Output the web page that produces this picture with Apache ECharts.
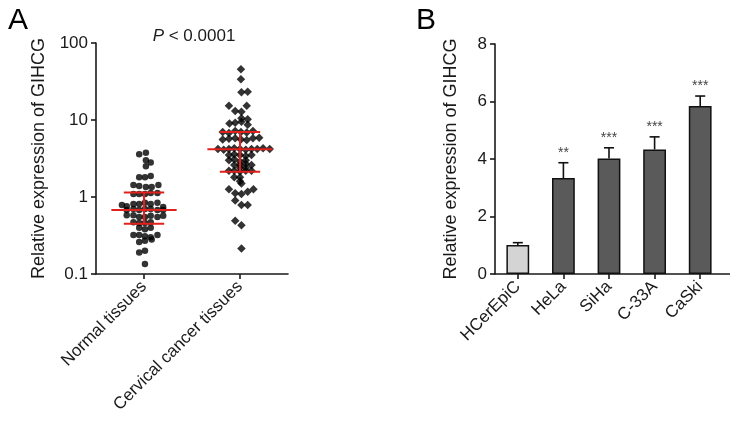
<!DOCTYPE html>
<html>
<head>
<meta charset="utf-8">
<script src="https://cdn.jsdelivr.net/npm/echarts@6/dist/echarts.min.js"></script>
<style>
html,body{margin:0;padding:0;background:#fff;}
#chart{width:730px;height:421px;}
</style>
</head>
<body>
<div id="chart"></div>
<script>
// ---------- Panel A data ----------
const groupsA = ['Normal tissues', 'Cervical cancer tissues'];
const normalValues = [3.6,3.75,3.0,2.8,2.5,1.8,1.8,1.87,1.43,1.39,1.35,1.35,1.43,1.09,1.09,1.09,1.13,1.13,0.79,0.76,0.81,0.81,0.84,0.81,0.84,0.74,0.68,0.70,0.68,0.70,0.70,0.68,0.68,0.58,0.58,0.55,0.55,0.57,0.55,0.57,0.47,0.46,0.46,0.47,0.40,0.38,0.40,0.32,0.32,0.31,0.30,0.32,0.26,0.27,0.28,0.19,0.20,0.135];
const normalJitter = [-0.05,0.02,0.02,0.07,0.02,-0.05,0.01,0.07,-0.11,-0.05,0.02,0.08,0.15,-0.11,-0.05,0.01,0.07,0.14,-0.23,-0.18,-0.11,-0.05,0.01,0.07,0.14,0.2,-0.18,-0.11,-0.05,0.01,0.07,0.14,0.2,-0.18,-0.11,-0.05,0.01,0.07,0.14,0.2,-0.11,-0.05,0.01,0.07,-0.05,0.01,0.07,-0.11,-0.05,0.01,0.07,0.14,-0.05,0.01,0.08,-0.05,0.01,0.01];
const cancerValues = [45.5,33.8,23,23.3,15.3,15.3,13.1,12.8,10.5,10.2,9.0,9.2,9.5,8.7,7.0,6.8,7.2,7.0,6.9,7.2,5.6,5.7,5.8,5.6,5.5,5.8,5.9,4.2,4.1,4.2,4.3,4.2,4.1,4.2,4.2,4.3,4.2,3.5,3.6,3.5,3.4,3.5,3.0,3.1,2.9,3.0,2.6,2.6,2.7,2.6,2.4,2.4,2.2,2.2,2.15,2.2,2.2,1.8,1.8,1.6,1.5,1.26,1.12,1.09,1.17,1.26,0.9,0.79,0.79,0.49,0.43,0.215];
const cancerJitter = [0.01,0.01,0.015,0.08,-0.115,0.07,-0.05,0.015,0.015,0.08,-0.11,-0.05,0.015,0.08,-0.18,-0.115,-0.05,0.01,0.07,0.135,-0.18,-0.115,-0.05,0.01,0.07,0.135,0.2,-0.23,-0.17,-0.115,-0.06,0,0.06,0.12,0.18,0.24,0.31,-0.115,-0.06,0,0.06,0.12,-0.115,-0.06,0,0.06,-0.06,0,0.06,0.12,0,0.06,-0.115,-0.06,0,0.06,0.12,-0.06,0,0,0.015,-0.115,-0.05,0.015,0.08,0.14,-0.05,0.015,0.08,-0.05,0.015,0.015];
const groupMedian = [0.68, 4.17];
const groupQ1 = [0.45, 2.13];
const groupQ3 = [1.14, 6.98];
const yTicksA = [0.1, 1, 10, 100];

// ---------- Panel B data ----------
const cellLines = ['HCerEpiC', 'HeLa', 'SiHa', 'C-33A', 'CaSki'];
const meanExpr = [1.01, 3.34, 4.02, 4.33, 5.84];
const errTop = [1.09, 3.87, 4.39, 4.77, 6.19];
const sigMarks = ['', '**', '***', '***', '***'];

const FONT = 'Liberation Sans, Arial, sans-serif';
const INK = '#1a1a1a';

const chart = echarts.init(document.getElementById('chart'), null, {renderer: 'canvas'});

const normalData = normalValues.map((v, i) => [0 + normalJitter[i], v]);
const cancerData = cancerValues.map((v, i) => [1 + cancerJitter[i], v]);
const statsData = groupMedian.map((m, i) => [i, m, groupQ1[i], groupQ3[i]]);
const barData = meanExpr.map((v, i) => ({
  value: v,
  itemStyle: {color: i === 0 ? '#d4d4d4' : '#5a5a5a'}
}));
const errData = meanExpr.map((v, i) => [i, v, errTop[i], sigMarks[i]]);

const axisLine = {show: true, onZero: false, lineStyle: {color: INK, width: 1.6}};
const axisTick = {show: true, length: 5, lineStyle: {color: INK, width: 1.6}};

const option = {
  animation: false,
  backgroundColor: '#fff',
  textStyle: {fontFamily: FONT},
  title: [
    {text: 'A', left: 3, top: 1, textStyle: {fontFamily: FONT, fontSize: 30, fontWeight: 'normal', color: '#000'}},
    {text: 'B', left: 411, top: 1, textStyle: {fontFamily: FONT, fontSize: 30, fontWeight: 'normal', color: '#000'}},
    {text: '{p|P} < 0.0001', left: 189, top: 23, textAlign: 'center',
     textStyle: {fontFamily: FONT, fontSize: 17, fontWeight: 'normal', color: INK,
       rich: {p: {fontStyle: 'italic', fontFamily: FONT, fontSize: 17, color: INK}}}}
  ],
  grid: [
    {left: 96, top: 43, width: 192, height: 231},
    {left: 495, top: 44, width: 228, height: 230},
    {left: 495, top: 44, width: 236, height: 230}
  ],
  xAxis: [
    {type: 'category', gridIndex: 0, data: groupsA, boundaryGap: true,
     axisLine: axisLine, axisTick: {show: true, alignWithLabel: true, length: 5, lineStyle: {color: INK, width: 1.6}},
     axisLabel: {rotate: 45, fontSize: 17, color: INK, fontFamily: FONT, margin: 10, interval: 0}},
    {type: 'value', gridIndex: 0, min: -0.5, max: 1.5, show: false},
    {type: 'category', gridIndex: 1, data: cellLines, boundaryGap: true,
     axisLine: {show: false}, axisTick: {show: true, alignWithLabel: true, length: 5, lineStyle: {color: INK, width: 1.6}},
     axisLabel: {rotate: 45, fontSize: 17, color: INK, fontFamily: FONT, margin: 10, interval: 0}},
    {type: 'value', gridIndex: 2, min: 0, max: 1, axisLine: axisLine, axisTick: {show: false}, axisLabel: {show: false}, splitLine: {show: false}}
  ],
  yAxis: [
    {type: 'log', gridIndex: 0, logBase: 10, min: 0.1, max: 100,
     axisLine: axisLine, axisTick: axisTick, splitLine: {show: false},
     axisLabel: {fontSize: 17, color: INK, fontFamily: FONT, margin: 8,
       formatter: v => { const t = yTicksA.find(x => Math.abs(x - v) / x < 1e-6); return t === undefined ? '' : String(t); }},
     name: 'Relative expression of GIHCG', nameLocation: 'middle', nameGap: 48, nameRotate: 90,
     nameTextStyle: {fontSize: 18, color: INK, fontFamily: FONT}},
    {type: 'value', gridIndex: 1, min: 0, max: 8, interval: 2,
     axisLine: axisLine, axisTick: axisTick, splitLine: {show: false},
     axisLabel: {fontSize: 17, color: INK, fontFamily: FONT, margin: 8},
     name: 'Relative expression of GIHCG', nameLocation: 'middle', nameGap: 35, nameRotate: 90,
     nameTextStyle: {fontSize: 18, color: INK, fontFamily: FONT}},
    {type: 'value', gridIndex: 2, min: 0, max: 1, show: false}
  ],
  series: [
    {type: 'scatter', xAxisIndex: 1, yAxisIndex: 0, data: normalData, symbol: 'circle', symbolSize: 6.5,
     itemStyle: {color: '#000'}, z: 2},
    {type: 'scatter', xAxisIndex: 1, yAxisIndex: 0, data: cancerData, symbol: 'diamond', symbolSize: 8.5,
     itemStyle: {color: '#000'}, z: 2},
    {type: 'custom', xAxisIndex: 1, yAxisIndex: 0, data: statsData, z: 5,
     renderItem: function (params, api) {
       const x = api.value(0);
       const med = api.coord([x, api.value(1)]);
       const lo = api.coord([x, api.value(2)]);
       const hi = api.coord([x, api.value(3)]);
       const unit = api.size([1, 1])[0];
       const mw = unit * 0.34, cw = unit * 0.21;
       const st = {stroke: '#e3211c', lineWidth: 2};
       return {type: 'group', children: [
         {type: 'line', shape: {x1: med[0] - mw, y1: med[1], x2: med[0] + mw, y2: med[1]}, style: st},
         {type: 'line', shape: {x1: lo[0] - cw, y1: lo[1], x2: lo[0] + cw, y2: lo[1]}, style: st},
         {type: 'line', shape: {x1: hi[0] - cw, y1: hi[1], x2: hi[0] + cw, y2: hi[1]}, style: st},
         {type: 'line', shape: {x1: med[0], y1: lo[1], x2: med[0], y2: hi[1]}, style: st}
       ]};
     }},
    {type: 'bar', xAxisIndex: 2, yAxisIndex: 1, data: barData, barWidth: '50%',
     itemStyle: {borderColor: '#111', borderWidth: 1.5}, z: 2},
    {type: 'custom', xAxisIndex: 2, yAxisIndex: 1, data: errData, z: 3,
     renderItem: function (params, api) {
       const i = api.value(0);
       const base = api.coord([i, api.value(1)]);
       const top = api.coord([i, api.value(2)]);
       const cw = api.size([1, 0])[0] * 0.11;
       const st = {stroke: '#111', lineWidth: 1.6};
       const mark = errData[params.dataIndex][3];
       const kids = [
         {type: 'line', shape: {x1: base[0], y1: base[1], x2: top[0], y2: top[1]}, style: st},
         {type: 'line', shape: {x1: top[0] - cw, y1: top[1], x2: top[0] + cw, y2: top[1]}, style: st}
       ];
       if (mark) kids.push({type: 'text', style: {text: mark, x: top[0], y: top[1] - 3, align: 'center', verticalAlign: 'bottom',
         fontSize: 14, fontFamily: FONT, fill: '#444'}});
       return {type: 'group', children: kids};
     }}
  ]
};
chart.setOption(option);
</script>
</body>
</html>
